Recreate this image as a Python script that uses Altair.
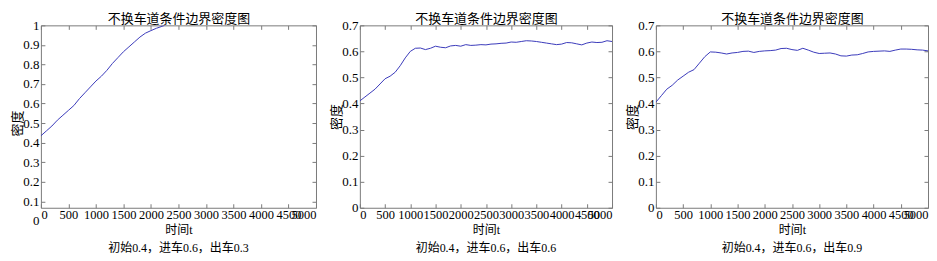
import altair as alt
import pandas as pd

# ---- data ----
t1 = [0, 100, 200, 300, 400, 500, 600, 700, 800, 900, 1000, 1100, 1200,
      1300, 1400, 1500, 1600, 1700, 1800, 1900, 2000, 2100, 2200, 2250]
v1 = [0.435, 0.46, 0.485, 0.515, 0.54, 0.565, 0.59, 0.625, 0.655, 0.685,
      0.715, 0.74, 0.77, 0.805, 0.835, 0.865, 0.89, 0.915, 0.94, 0.96,
      0.973, 0.985, 0.995, 1.0]

t23 = list(range(0, 5001, 100))
v2 = [0.41, 0.425, 0.44, 0.455, 0.475, 0.495, 0.505, 0.52, 0.545, 0.575,
      0.6, 0.612, 0.613, 0.607, 0.612, 0.62, 0.616, 0.614, 0.621, 0.623,
      0.62, 0.626, 0.623, 0.624, 0.626, 0.625, 0.628, 0.629, 0.631, 0.632,
      0.636, 0.635, 0.638, 0.641, 0.64, 0.638, 0.635, 0.632, 0.629, 0.626,
      0.628, 0.634, 0.633, 0.629, 0.625, 0.632, 0.636, 0.634, 0.635, 0.641,
      0.638]
v3 = [0.405, 0.43, 0.455, 0.47, 0.49, 0.505, 0.52, 0.53, 0.555, 0.58,
      0.598, 0.597, 0.594, 0.59, 0.594, 0.596, 0.6, 0.601, 0.596, 0.6,
      0.602, 0.603, 0.605, 0.611, 0.612, 0.607, 0.604, 0.612, 0.605, 0.597,
      0.592, 0.593, 0.594, 0.59, 0.583, 0.582, 0.586, 0.587, 0.592, 0.598,
      0.6, 0.601, 0.602, 0.6, 0.605, 0.609, 0.609, 0.608, 0.606, 0.605,
      0.602]

x_ticks = [0, 500, 1000, 1500, 2000, 2500, 3000, 3500, 4000, 4500, 5000]
y_ticks_1 = [0, 0.1, 0.2, 0.3, 0.4, 0.5, 0.6, 0.7, 0.8, 0.9, 1]
y_ticks_23 = [0, 0.1, 0.2, 0.3, 0.4, 0.5, 0.6, 0.7]
y_top_1 = 1.0
y_visible_bottom_1 = 0.067   # panel 1 frame is cut just below 0.1
y_top_23 = 0.7
y_visible_bottom_23 = 0.0

panel_title = "不换车道条件边界密度图"
x_title = "时间t"
y_title = "密度"
captions = ["初始0.4，进车0.6，出车0.3",
            "初始0.4，进车0.6，出车0.6",
            "初始0.4，进车0.6，出车0.9"]

AX = "#7a7a7a"
LINE = "#3b3bbb"
NUM_FONT = "Liberation Serif"
CJK = "Noto Sans CJK SC"
MIX = "Liberation Serif, Noto Sans CJK SC"
H = 183


def panel(t, v, top, vis_bottom, yt, caption, w, h):
    df = pd.DataFrame({"t": t, "v": v})
    xs = alt.Scale(domain=[0, 5000], nice=False, zero=False)
    # the frame shows only [vis_bottom, top]; value 0 sits below the frame
    zero_px = h * top / (top - vis_bottom)
    ys = alt.Scale(domain=[0, top], range=[zero_px, 0], nice=False, zero=False)
    tick_y = [y for y in yt if y >= vis_bottom]
    common = dict(grid=False, domain=False, labelOverlap=False)
    base = alt.Chart(df)

    lbl_x = alt.Axis(orient="bottom", values=x_ticks, format="d", ticks=False,
                     labelPadding=1, labelFont=NUM_FONT, labelFontSize=12.5,
                     labelColor="black", title=x_title, titleFont=MIX,
                     titleFontSize=12, titleFontWeight="normal",
                     titleColor="black", titlePadding=3, **common)
    lbl_y = alt.Axis(orient="left", values=yt, labelExpr="datum.value + ''",
                     ticks=False, labelPadding=2, labelFont=NUM_FONT,
                     labelFontSize=13, labelColor="black", title=y_title,
                     titleFont=CJK, titleFontSize=13, titleFontWeight="normal",
                     titleColor="black", titlePadding=-2, **common)
    line = base.mark_line(color=LINE, strokeWidth=1, clip=True).encode(
        x=alt.X("t:Q", scale=xs, axis=lbl_x),
        y=alt.Y("v:Q", scale=ys, axis=lbl_y),
    )

    def tick_axis(orient, vals, off):
        return alt.Axis(orient=orient, values=vals, offset=off, labels=False,
                        ticks=True, tickSize=4, tickColor=AX, tickWidth=1,
                        title=None, **common)

    ticks_a = base.mark_line(opacity=0).encode(
        x=alt.X("t:Q", scale=xs, axis=tick_axis("top", x_ticks, -h)),
        y=alt.Y("v:Q", scale=ys, axis=tick_axis("right", tick_y, -w)),
    )
    ticks_b = base.mark_line(opacity=0).encode(
        x=alt.X("t:Q", scale=xs, axis=tick_axis("bottom", x_ticks, -h)),
        y=alt.Y("v:Q", scale=ys, axis=tick_axis("left", tick_y, -w)),
    )
    ttl = base.mark_line(opacity=0).encode(
        x=alt.X("t:Q", scale=xs,
                axis=alt.Axis(orient="top", labels=False, ticks=False,
                              title=panel_title, titleFont=CJK,
                              titleFontSize=13, titleFontWeight="normal",
                              titleColor="black", titlePadding=0, **common)),
        y=alt.Y("v:Q", scale=ys, axis=None),
    )
    return alt.layer(line, ticks_a, ticks_b, ttl).resolve_axis(
        x="independent", y="independent"
    ).properties(
        width=w, height=h,
        title=alt.TitleParams(caption, orient="bottom", font=MIX, fontSize=12,
                              fontWeight="normal", color="black", offset=8),
    )


p1 = panel(t1, v1, y_top_1, y_visible_bottom_1, y_ticks_1, captions[0], 276, H)
p2 = panel(t23, v2, y_top_23, y_visible_bottom_23, y_ticks_23, captions[1], 253, H)
p3 = panel(t23, v3, y_top_23, y_visible_bottom_23, y_ticks_23, captions[2], 273, H)

chart = alt.hconcat(p1, p2, p3, spacing=44, bounds="flush").configure_view(
    stroke=AX, strokeWidth=1
).properties(padding={"left": 3, "top": 3, "right": 0, "bottom": 0})

chart.save("out.html", embed_options={"renderer": "svg", "actions": False})
